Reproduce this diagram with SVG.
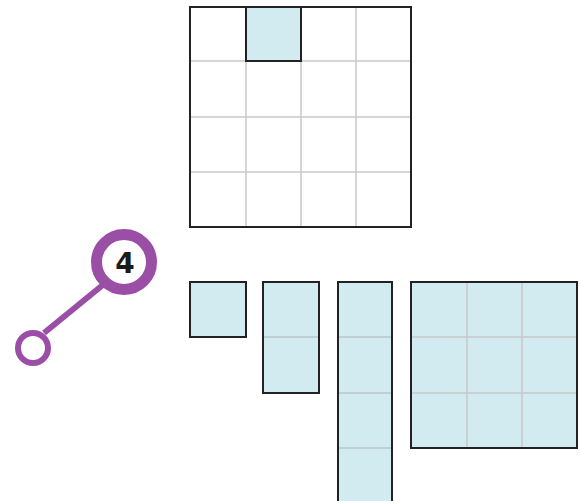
<svg xmlns="http://www.w3.org/2000/svg" width="581" height="501" viewBox="0 0 581 501">
<style>
.grid{stroke:#c9c9c9;stroke-width:1.5;fill:none}
.frame{stroke:#222;stroke-width:2;fill:none}
.tile{fill:#d2ebf1}
.gridb{stroke:#b9c6ca;stroke-width:1.5;fill:none}
.call{stroke:#9b4ea6;fill:#fff}
</style>
<rect width="581" height="501" fill="#fff"/>
<g id="board">
<rect x="190" y="7" width="221" height="220" fill="#fff"/>
<path class="grid" d="M246 7V227M301 7V227M356 7V227M190 61H411M190 117H411M190 172H411"/>
<rect class="tile" x="246" y="7" width="55" height="54"/>
<rect class="frame" x="246" y="7" width="55" height="54"/>
<rect class="frame" x="190" y="7" width="221" height="220"/>
</g>
<g id="piece1">
<rect class="tile" x="190" y="282" width="56" height="55"/>
<rect class="frame" x="190" y="282" width="56" height="55"/>
</g>
<g id="piece2">
<rect class="tile" x="263" y="282" width="56" height="111"/>
<path class="gridb" d="M263 337H319"/>
<rect class="frame" x="263" y="282" width="56" height="111"/>
</g>
<g id="piece3">
<rect class="tile" x="338" y="282" width="54" height="225"/>
<path class="gridb" d="M338 337H392M338 393H392M338 448H392"/>
<rect class="frame" x="338" y="282" width="54" height="225"/>
</g>
<g id="piece4">
<rect class="tile" x="411" y="282" width="166" height="166"/>
<path class="grid" d="M467 282V448M522 282V448M411 337H577M411 393H577"/>
<rect class="frame" x="411" y="282" width="166" height="166"/>
</g>
<g id="connectors">
<line x1="44" y1="333" x2="104" y2="284" stroke="#9b4ea6" stroke-width="6"/>
</g>
<g id="callout4">
<circle class="call" cx="124" cy="262" r="27.5" stroke-width="11"/>
<text x="125" y="273" text-anchor="middle" font-family="DejaVu Sans, sans-serif" font-weight="bold" font-size="28" fill="#1a1a1a">4</text>
</g>
<g id="endpoint">
<circle class="call" cx="33" cy="348" r="15" stroke-width="6"/>
</g>
</svg>
